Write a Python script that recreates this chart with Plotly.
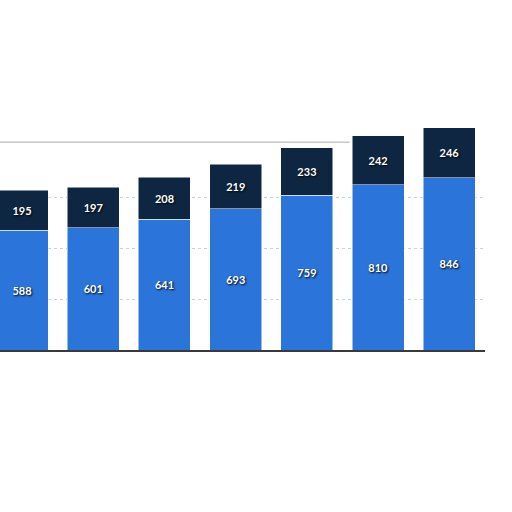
import plotly.graph_objects as go

categories = ["1", "2", "3", "4", "5", "6", "7"]
bottom_values = [588, 601, 641, 693, 759, 810, 846]
top_values = [195, 197, 208, 219, 233, 242, 246]

blue = "#2b74d9"
navy = "#0f2642"
shadow = "1px 1px 2px #000000"

fig = go.Figure()
fig.add_trace(go.Bar(
    x=categories, y=bottom_values, marker=dict(color=blue, line=dict(color="#ffffff", width=0.5)),
    text=[str(v) for v in bottom_values], textposition="inside", insidetextanchor="middle",
    textfont=dict(family="Lato, DejaVu Sans", size=11, color="#ffffff", weight="bold", shadow=shadow),
    textangle=0, showlegend=False,
))
fig.add_trace(go.Bar(
    x=categories, y=top_values, marker=dict(color=navy, line=dict(color="#ffffff", width=0.5)),
    text=[str(v) for v in top_values], textposition="inside", insidetextanchor="middle",
    textfont=dict(family="Lato, DejaVu Sans", size=11, color="#ffffff", weight="bold", shadow=shadow),
    textangle=0, showlegend=False,
))

fig.add_shape(type="line", xref="x", yref="y", x0=-0.5, x1=4.6, y0=1020, y1=1020,
              line=dict(color="#c8c8c8", width=1.5), layer="below")

fig.update_layout(
    width=512, height=512,
    margin=dict(l=0, r=27, t=100, b=162),
    barmode="stack", bargap=0.27,
    paper_bgcolor="#ffffff", plot_bgcolor="#ffffff",
    xaxis=dict(type="category", range=[-0.309, 6.5], showticklabels=False, ticks="",
               showgrid=False, showline=True, linecolor="#3a3a3a", linewidth=1.5),
    yaxis=dict(range=[0, 1227], showticklabels=False, ticks="", zeroline=False,
               tickvals=[250, 500, 750], showgrid=True, gridcolor="#d0d0d0", griddash="dot",
               gridwidth=1),
)

fig.write_html("out.html", config={"displayModeBar": False},
               post_script="document.body.style.margin='0';")
